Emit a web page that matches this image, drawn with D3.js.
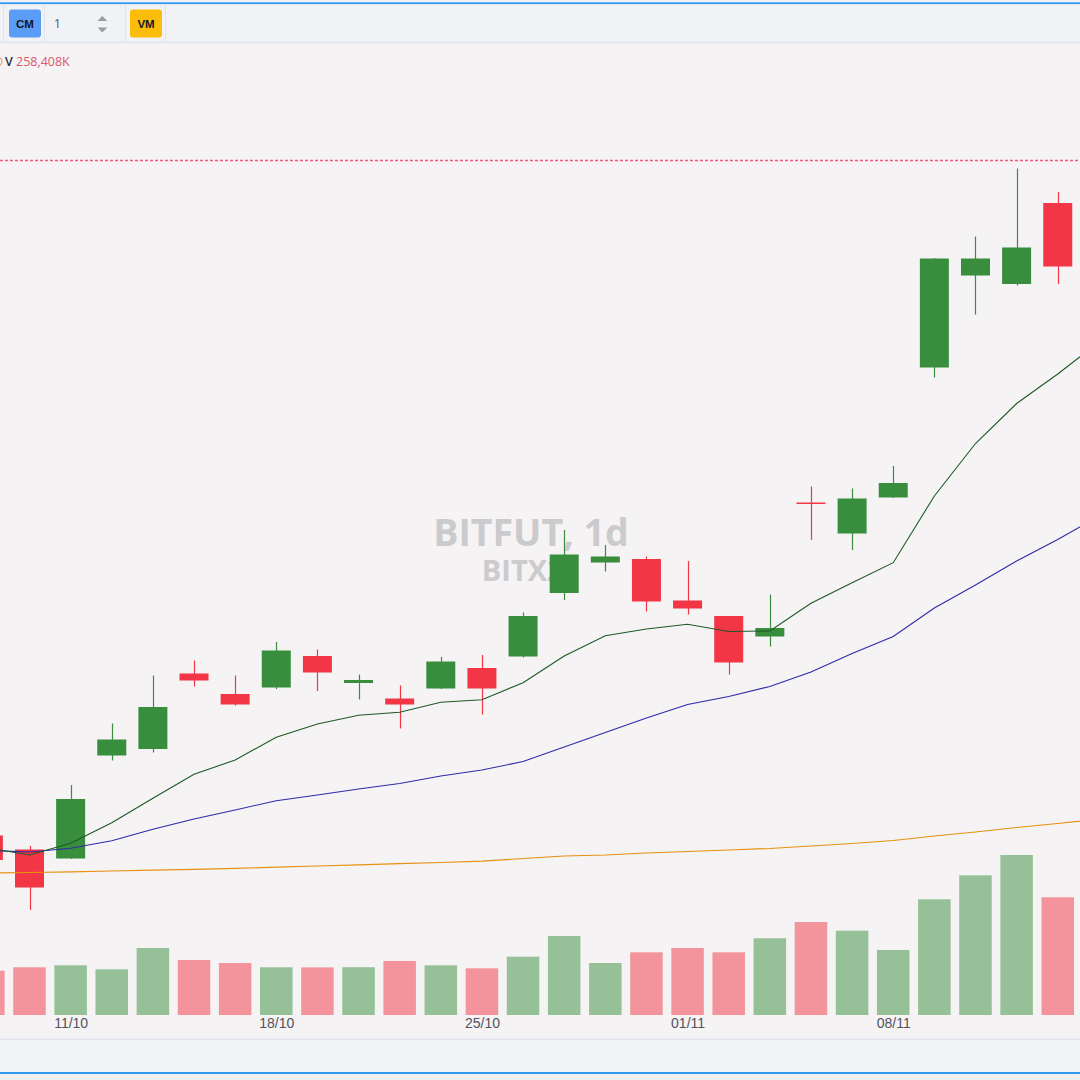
<!DOCTYPE html>
<html><head><meta charset="utf-8">
<script src="https://cdn.jsdelivr.net/npm/d3@7"></script>
<style>html,body{margin:0;padding:0;background:#f0f1f4;overflow:hidden}</style>
</head><body><svg id="c" width="1080" height="1080"></svg>
<script>
// ---- data ----
const dates = ["07/10","08/10","11/10","12/10","13/10","14/10","15/10","18/10","19/10","20/10","21/10","22/10","25/10","26/10","27/10","28/10","29/10","01/11","02/11","03/11","04/11","05/11","08/11","09/11","10/11","11/11","12/11","15/11"];
const opens  = [55690,55410,55230,57290,57420,58930,58520,58650,59280,58740,58430,58630,59040,59270,60540,61150,61220,60390,60080,59670,62350,61730,62450,65050,66890,66720,68340];
const highs  = [55800,55480,56700,57930,58890,59190,58890,59560,59410,58910,58690,59260,59300,60150,61800,61500,61270,61180,60080,60510,62670,62630,63080,67240,67670,69030,68560];
const lows   = [55100,54200,55220,57190,57350,58670,58290,58620,58580,58410,57830,58620,58110,59250,60400,60970,60170,60110,58910,59470,61600,61400,62440,64850,66110,66690,66720];
const closes = [55200,54650,56420,57610,58260,58790,58310,59390,58950,58800,58310,59170,58630,60080,61310,61270,60370,60230,59150,59840,62330,62430,62740,67230,67230,67450,67070];
const volumes = [97200,104700,109100,100300,147100,120700,114100,104700,104500,104900,118500,109100,102500,128000,173400,114100,137600,147100,137600,168400,204100,185000,142700,254000,306600,351200,258408];
const maFast = [55440,55300,55534,55946,56434,56914,57200,57654,57920,58096,58154,58354,58406,58746,59280,59686,59820,59914,59770,59780,60334,60746,61146,62480,63530,64330,64920,65560];
const maMid  = [55390,55360,55434,55586,55814,56020,56200,56386,56500,56620,56730,56880,57000,57170,57460,57750,58040,58310,58470,58670,58960,59330,59670,60240,60700,61180,61610,62080];
const maSlow = [54940,54950,54964,54980,54996,55014,55034,55056,55080,55104,55128,55150,55176,55230,55280,55300,55340,55370,55400,55430,55480,55530,55590,55680,55760,55850,55930,56020];
const tickLabels = ["11/10","18/10","25/10","01/11","08/11"];
const volumeLabel = "258,408K";
const priceLineValue = 69190;
const watermarkTitle = "BITFUT, 1d";
const watermarkSub = "BITX21";

// ---- layout ----
const W = 1080, H = 1080;
const paneTop = 44, paneBottom = 1038.5;
const step = 41.13, x0 = -11.63;
const svg = d3.select("#c");

const x = d3.scalePoint().domain(dates).range([x0, x0 + step * (dates.length - 1)]);
const y = d3.scaleLinear().domain([52000, 71520]).range([1020, 44]);
const yv = d3.scaleLinear().domain([0, 351200]).range([1015, 855]);

const UP = "#388e3c", DOWN = "#f23645";
const bg = "#f5f3f4";

// backgrounds
svg.append("rect").attr("width", W).attr("height", H).attr("fill", "#f0f0f1");
svg.append("rect").attr("x", 0).attr("y", 0).attr("width", W).attr("height", 44).attr("fill", "#f1f2f6");
svg.append("rect").attr("x", 0).attr("y", 2.3).attr("width", W).attr("height", 1.8).attr("fill", "#2f9bf0");
svg.append("rect").attr("x", 0).attr("y", 41.8).attr("width", W).attr("height", 1.6).attr("fill", "#e0e3eb");
svg.append("rect").attr("x", 0).attr("y", paneTop - 0.6).attr("width", W).attr("height", paneBottom - paneTop + 0.6).attr("fill", bg);
svg.append("rect").attr("x", 0).attr("y", paneBottom).attr("width", W).attr("height", 1.6).attr("fill", "#e0e3eb");
svg.append("rect").attr("x", 0).attr("y", paneBottom + 1.6).attr("width", W).attr("height", 1072 - paneBottom - 1.6).attr("fill", "#f2f3f7");
svg.append("rect").attr("x", 0).attr("y", 1072).attr("width", W).attr("height", 2).attr("fill", "#2f9bf0");

// toolbar
const tb = svg.append("g");
[3.5, 44.5, 125.5, 165.5].forEach(sx => tb.append("line").attr("x1", sx).attr("x2", sx).attr("y1", 5).attr("y2", 41.5).attr("stroke", "#e0e3eb").attr("stroke-width", 1));
tb.append("rect").attr("x", 9).attr("y", 9.5).attr("width", 32).attr("height", 28).attr("rx", 3).attr("fill", "#5b9cf6");
tb.append("text").attr("x", 25).attr("y", 28).attr("text-anchor", "middle").attr("font-family", "'Liberation Sans', Arial, sans-serif").attr("font-size", 11.5).attr("font-weight", "bold").attr("fill", "#131722").text("CM");
tb.append("text").attr("x", 54).attr("y", 28).attr("font-family", "'Open Sans', sans-serif").attr("font-size", 12).attr("fill", "#50535e").text("1");
tb.append("path").attr("d", "M97.5,21 L102.3,16 L107.2,21 Z").attr("fill", "#9a9ca4");
tb.append("path").attr("d", "M97.5,27.5 L102.3,32.5 L107.2,27.5 Z").attr("fill", "#9a9ca4");
tb.append("rect").attr("x", 130).attr("y", 9.5).attr("width", 32).attr("height", 28).attr("rx", 3).attr("fill", "#fbbc0a");
tb.append("text").attr("x", 146).attr("y", 28).attr("text-anchor", "middle").attr("font-family", "'Liberation Sans', Arial, sans-serif").attr("font-size", 11.5).attr("font-weight", "bold").attr("fill", "#131722").text("VM");

// clip for chart pane
svg.append("defs").append("clipPath").attr("id", "pane").append("rect").attr("x", 0).attr("y", paneTop).attr("width", W).attr("height", paneBottom - paneTop);
const g = svg.append("g").attr("clip-path", "url(#pane)");

// watermark
g.append("text").attr("x", 531).attr("y", 545.5).attr("text-anchor", "middle").attr("font-family", "'Open Sans', sans-serif").attr("font-weight", "bold").attr("font-size", 37.5).attr("fill", "#cbcacd").text(watermarkTitle);
g.append("text").attr("x", 531).attr("y", 581).attr("text-anchor", "middle").attr("font-family", "'Open Sans', sans-serif").attr("font-weight", "bold").attr("font-size", 29).attr("fill", "#cbcacd").text(watermarkSub);

// candles data
const candles = opens.map((o, i) => ({d: dates[i], o, h: highs[i], l: lows[i], c: closes[i], v: volumes[i]}));

// volume bars
g.append("g").selectAll("rect").data(candles).join("rect")
  .attr("x", d => x(d.d) - 16.25).attr("width", 32.5)
  .attr("y", d => yv(d.v)).attr("height", d => yv(0) - yv(d.v))
  .attr("fill", d => d.c >= d.o ? UP : DOWN).attr("fill-opacity", 0.5);

// wicks
g.append("g").selectAll("line").data(candles).join("line")
  .attr("x1", d => Math.round(x(d.d)) + 0.5).attr("x2", d => Math.round(x(d.d)) + 0.5)
  .attr("y1", d => y(d.h)).attr("y2", d => y(d.l))
  .attr("stroke", d => d.c >= d.o ? UP : DOWN).attr("stroke-width", 1.2);

// bodies
g.append("g").selectAll("rect").data(candles).join("rect")
  .attr("x", d => x(d.d) - 14.5).attr("width", 29)
  .attr("y", d => y(Math.max(d.o, d.c)))
  .attr("height", d => Math.max(1.5, Math.abs(y(d.o) - y(d.c))))
  .attr("fill", d => d.c >= d.o ? UP : DOWN);

// moving averages
const line = arr => d3.line().x((v, i) => x(dates[i])).y(v => y(v))(arr);
g.append("path").attr("d", line(maSlow)).attr("fill", "none").attr("stroke", "#e8900f").attr("stroke-width", 1.2);
g.append("path").attr("d", line(maMid)).attr("fill", "none").attr("stroke", "#2c2ca8").attr("stroke-width", 1.1);
g.append("path").attr("d", line(maFast)).attr("fill", "none").attr("stroke", "#1d5a25").attr("stroke-width", 1.1);

// price line
const py = y(priceLineValue);
g.append("line").attr("x1", 0).attr("x2", W).attr("y1", py).attr("y2", py)
  .attr("stroke", "#f25c7c").attr("stroke-width", 1.6).attr("stroke-dasharray", "3,2");

// legend
svg.append("circle").attr("cx", -2).attr("cy", 61.5).attr("r", 4).attr("fill", "none").attr("stroke", "#e9a27a").attr("stroke-width", 1.2);
svg.append("text").attr("x", 5).attr("y", 66).attr("font-family", "'Open Sans', sans-serif").attr("font-size", 12.5).attr("font-weight", 600).attr("fill", "#2a2e39").text("V");
svg.append("text").attr("x", 16).attr("y", 66).attr("font-family", "'Open Sans', sans-serif").attr("font-size", 12.5).attr("fill", "#e0566c").text(volumeLabel);

// time axis
const ax = svg.append("g").attr("transform", "translate(0,1016)")
  .call(d3.axisBottom(x).tickValues(tickLabels).tickSize(0).tickPadding(2));
ax.select(".domain").remove();
ax.selectAll("text").attr("font-family", "'Liberation Sans', Arial, sans-serif").attr("font-size", 14).attr("fill", "#50535e");
</script></body></html>
